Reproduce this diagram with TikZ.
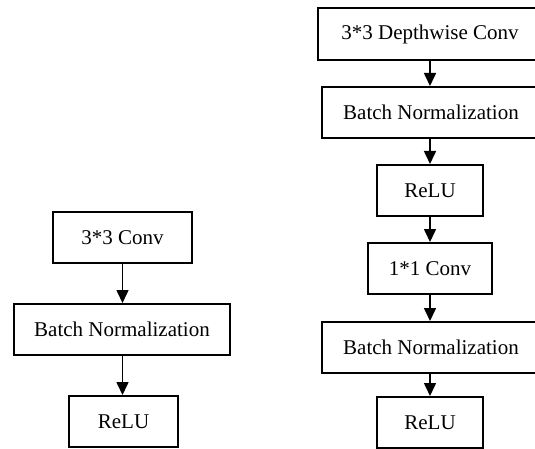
\documentclass[tikz,border=0pt]{standalone}
\usepackage{fontspec}
\setmainfont{Liberation Serif}
\usetikzlibrary{arrows.meta}

\tikzset{
  block/.style={draw=black, line width=2pt, inner sep=0pt, align=center,
    font=\fontsize{21}{25}\selectfont},
  flow/.style={line width=1.6pt, -{Triangle[length=13pt, width=12pt]}}
}

\begin{document}
\begin{tikzpicture}[x=1pt, y=-1pt]
  \useasboundingbox (0,0) rectangle (535,449);

  % standard convolution block
  \node[block, minimum width=139pt, minimum height=51pt] (conv3) at (122.5,237.5) {3*3 Conv};
  \node[block, minimum width=216pt, minimum height=51pt] (bnA) at (122,329.5) {Batch Normalization};
  \node[block, minimum width=109pt, minimum height=51pt] (reluA) at (123.5,421.5) {ReLU};

  % depthwise separable convolution block
  \node[block, minimum width=224pt, minimum height=52pt] (dw) at (430,34) {3*3 Depthwise Conv};
  \node[block, minimum width=218pt, minimum height=51pt] (bnB) at (431,112.5) {Batch Normalization};
  \node[block, minimum width=106pt, minimum height=51pt] (reluB) at (430,190.5) {ReLU};
  \node[block, minimum width=124pt, minimum height=51pt] (conv1) at (430,268.5) {1*1 Conv};
  \node[block, minimum width=218pt, minimum height=51pt] (bnC) at (431,347.5) {Batch Normalization};
  \node[block, minimum width=106pt, minimum height=51pt] (reluC) at (430,422.5) {ReLU};

  % connectors
  \draw[flow] (conv3.south) -- (conv3.south |- bnA.north);
  \draw[flow] (bnA.south -| conv3.south) -- (conv3.south |- reluA.north);

  \draw[flow] (dw.south) -- (dw.south |- bnB.north);
  \draw[flow] (bnB.south -| dw.south) -- (dw.south |- reluB.north);
  \draw[flow] (reluB.south) -- (conv1.north);
  \draw[flow] (conv1.south) -- (conv1.south |- bnC.north);
  \draw[flow] (bnC.south -| reluC.north) -- (reluC.north);
\end{tikzpicture}
\end{document}
